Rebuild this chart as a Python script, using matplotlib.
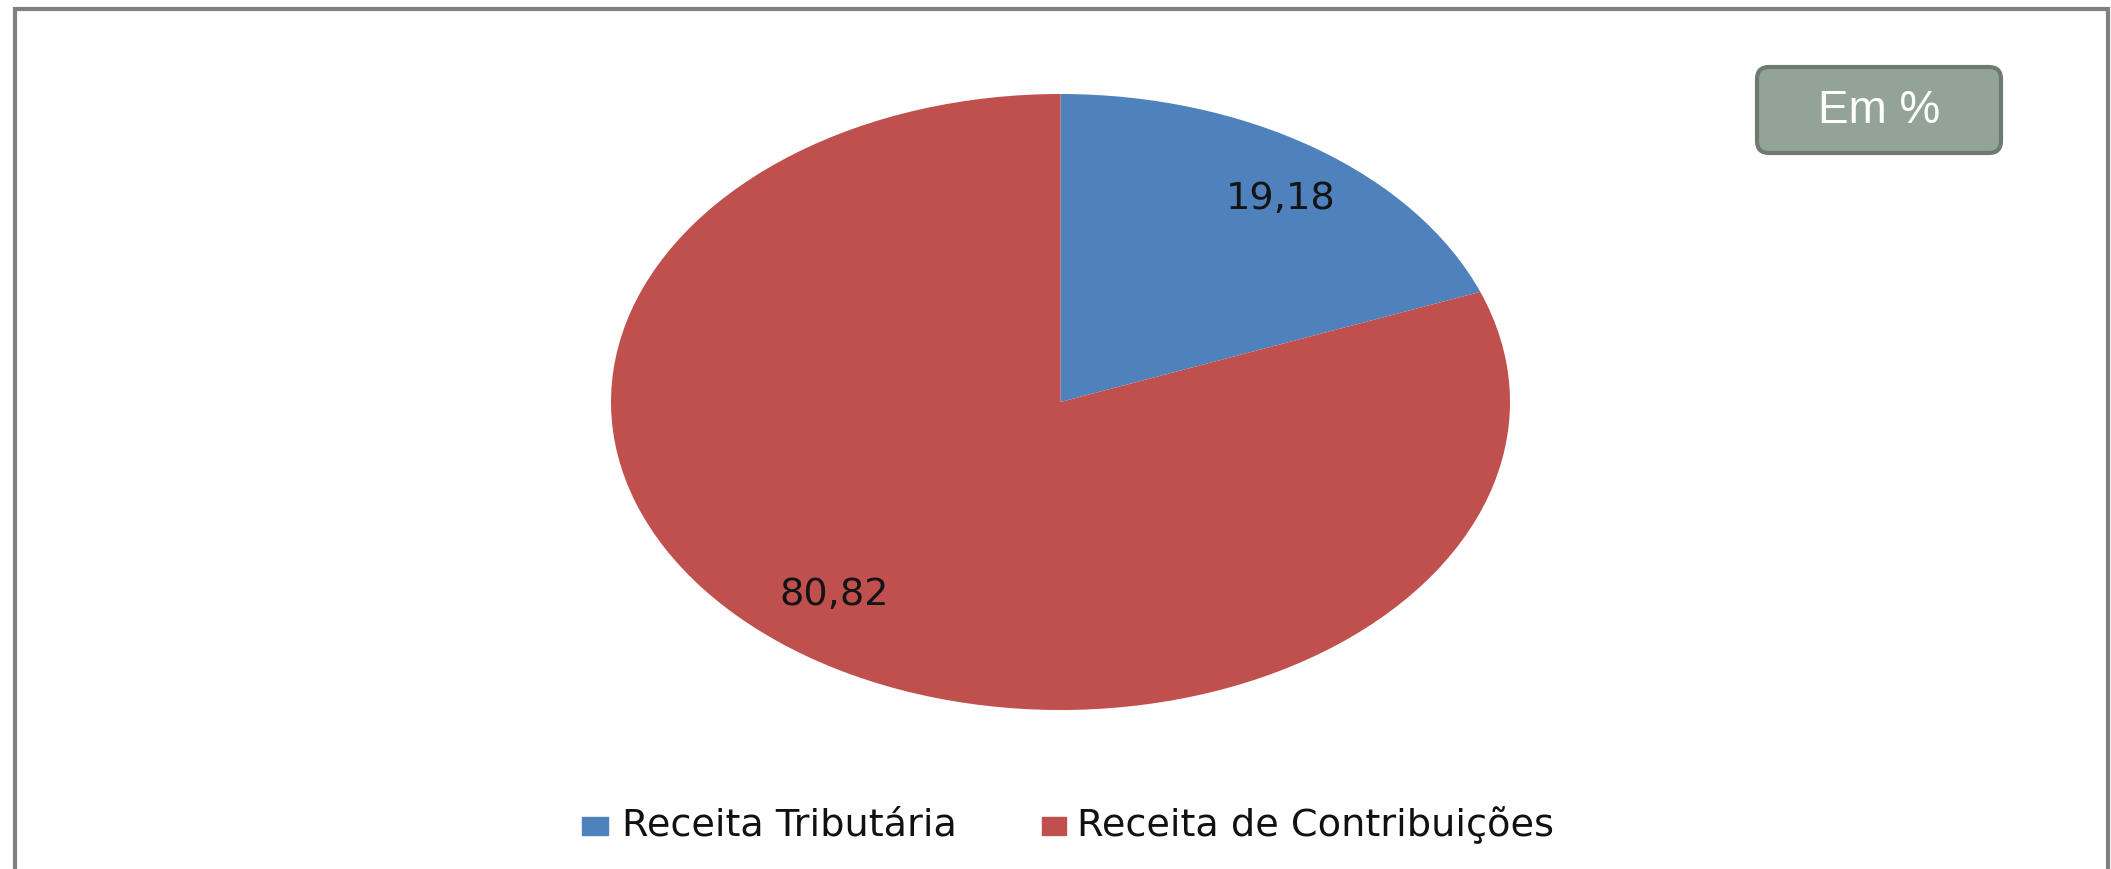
import matplotlib
matplotlib.use("Agg")
import matplotlib.pyplot as plt
from matplotlib.patches import Rectangle, FancyBboxPatch
from matplotlib.transforms import IdentityTransform

labels = ["Receita Tributária", "Receita de Contribuições"]
values = [19.18, 80.82]
value_text = ["19,18", "80,82"]
colors = ["#4F81BD", "#C0504D"]

W, H = 2111, 869
fig = plt.figure(figsize=(W / 100, H / 100), dpi=100)
fig.patch.set_facecolor("white")

# pie axes placed in pixels (ellipse, like the original)
x0, x1, ytop, ybot = 611, 1510, 94, 710
ax = fig.add_axes([x0 / W, 1 - ybot / H, (x1 - x0) / W, (ybot - ytop) / H])
wedges, _ = ax.pie(values, colors=colors, startangle=90, counterclock=False,
                   radius=1.0)
ax.set_aspect("auto")
ax.set_xlim(-1, 1)
ax.set_ylim(-1, 1)
ax.axis("off")

num_font = ["DejaVu Sans"]
fig.text(1281 / W, 1 - 199 / H, value_text[0], ha="center", va="center",
         fontsize=27.5, family=num_font, color="#141414")
fig.text(834 / W, 1 - 595 / H, value_text[1], ha="center", va="center",
         fontsize=27.5, family=num_font, color="#141414")

# legend
leg_font = ["DejaVu Sans"]
fig.patches.append(Rectangle((582, H - 835), 26, 18, color=colors[0],
                             transform=IdentityTransform(), figure=fig))
fig.text(622 / W, 1 - 825 / H, labels[0], ha="left", va="center",
         fontsize=27.5, family=leg_font, color="#111111")
fig.patches.append(Rectangle((1042, H - 835), 24, 18, color=colors[1],
                             transform=IdentityTransform(), figure=fig))
fig.text(1077 / W, 1 - 825 / H, labels[1], ha="left", va="center",
         fontsize=27.5, family=leg_font, color="#111111")

# "Em %" box
box = FancyBboxPatch((1757, H - 153), 244, 86,
                     boxstyle="round,pad=0,rounding_size=12",
                     facecolor="#93A397", edgecolor="#6E7B70", linewidth=3,
                     transform=IdentityTransform(), figure=fig)
fig.patches.append(box)
fig.text(1879 / W, 1 - 111 / H, "Em %", ha="center", va="center",
         fontsize=33, family=["Liberation Sans", "DejaVu Sans"], color="white")

# outer border
fig.patches.append(Rectangle((15, -20), 2093, H - 8.5 + 20, fill=False,
                             edgecolor="#808080", linewidth=3,
                             transform=IdentityTransform(), figure=fig))

fig.savefig("out.png", dpi=100)
